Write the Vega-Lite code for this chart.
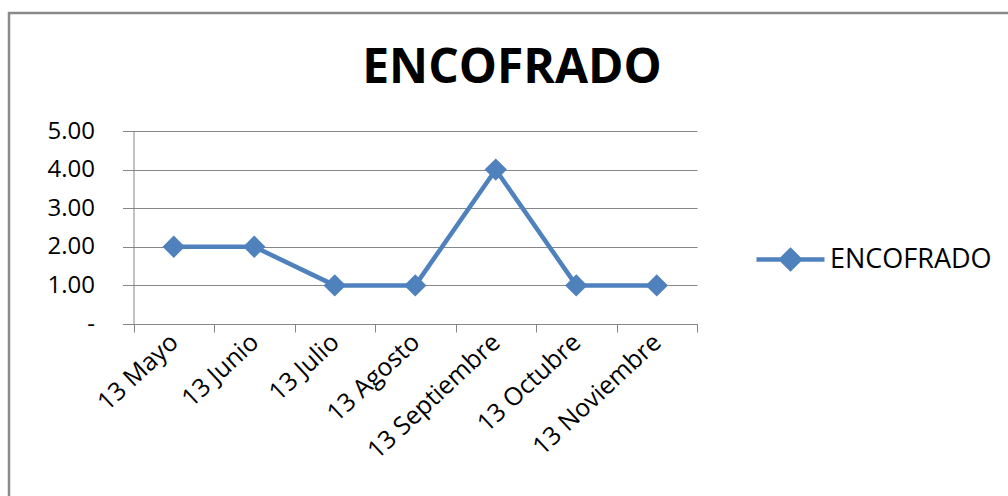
{
  "$schema": "https://vega.github.io/schema/vega-lite/v6.json",
  "width": 1002,
  "height": 488,
  "autosize": "none",
  "padding": {"left": 9, "top": 13, "right": 0, "bottom": 0},
  "background": "white",
  "title": {
    "text": "ENCOFRADO",
    "font": "Open Sans",
    "fontSize": 48,
    "fontWeight": "bold",
    "color": "#000000",
    "anchor": "middle",
    "baseline": "alphabetic",
    "offset": 0,
    "dx": 2,
    "dy": 118
  },
  "data": {
    "values": [
      {"mes": "13 Mayo", "valor": 2},
      {"mes": "13 Junio", "valor": 2},
      {"mes": "13 Julio", "valor": 1},
      {"mes": "13 Agosto", "valor": 1},
      {"mes": "13 Septiembre", "valor": 4},
      {"mes": "13 Octubre", "valor": 1},
      {"mes": "13 Noviembre", "valor": 1}
    ]
  },
  "encoding": {
    "x": {
      "field": "mes",
      "type": "nominal",
      "sort": null,
      "scale": {"type": "band", "paddingInner": 0, "paddingOuter": 0, "range": [124.5, 688]},
      "axis": {
        "title": null,
        "offset": -177,
        "grid": false,
        "tickBand": "extent",
        "labelAngle": -43,
        "labelBaseline": "middle",
        "labelFont": "Open Sans",
        "labelFontSize": 25,
        "labelColor": "#000000",
        "labelPadding": 6,
        "domainColor": "#868686",
        "tickColor": "#868686",
        "tickSize": 8
      }
    },
    "y": {
      "field": "valor",
      "type": "quantitative",
      "scale": {"domain": [0, 5], "nice": false, "range": [311, 118]},
      "axis": {
        "title": null,
        "offset": -124.5,
        "values": [0, 1, 2, 3, 4, 5],
        "labelExpr": "datum.value == 0 ? '-\u00a0\u00a0\u00a0' : format(datum.value, '.2f')",
        "labelFont": "Open Sans",
        "labelFontSize": 24,
        "labelColor": "#000000",
        "labelPadding": 28,
        "domainColor": "#868686",
        "tickColor": "#868686",
        "tickSize": 11,
        "gridColor": "#868686",
        "gridWidth": 1
      }
    },
    "color": {
      "datum": "ENCOFRADO",
      "type": "nominal",
      "scale": {"range": ["#4F81BD"]},
      "legend": {
        "title": null,
        "orient": "none",
        "legendX": 745,
        "legendY": 210,
        "symbolType": "M-1,0L1,0M0,-0.27L0.27,0L0,0.27L-0.27,0Z",
        "symbolSize": 4624,
        "symbolStrokeWidth": 4.5,
        "symbolFillColor": "#4F81BD",
        "symbolStrokeColor": "#4F81BD",
        "labelFont": "Open Sans",
        "labelFontSize": 27,
        "labelLimit": 400,
        "labelColor": "#000000",
        "labelOffset": 3
      }
    }
  },
  "layer": [
    {"mark": {"type": "line", "strokeWidth": 4.5}},
    {"mark": {"type": "point", "shape": "diamond", "filled": true, "size": 500, "opacity": 1}}
  ],
  "config": {
    "view": {"stroke": "#8a8a8a", "strokeWidth": 2.5}
  }
}
